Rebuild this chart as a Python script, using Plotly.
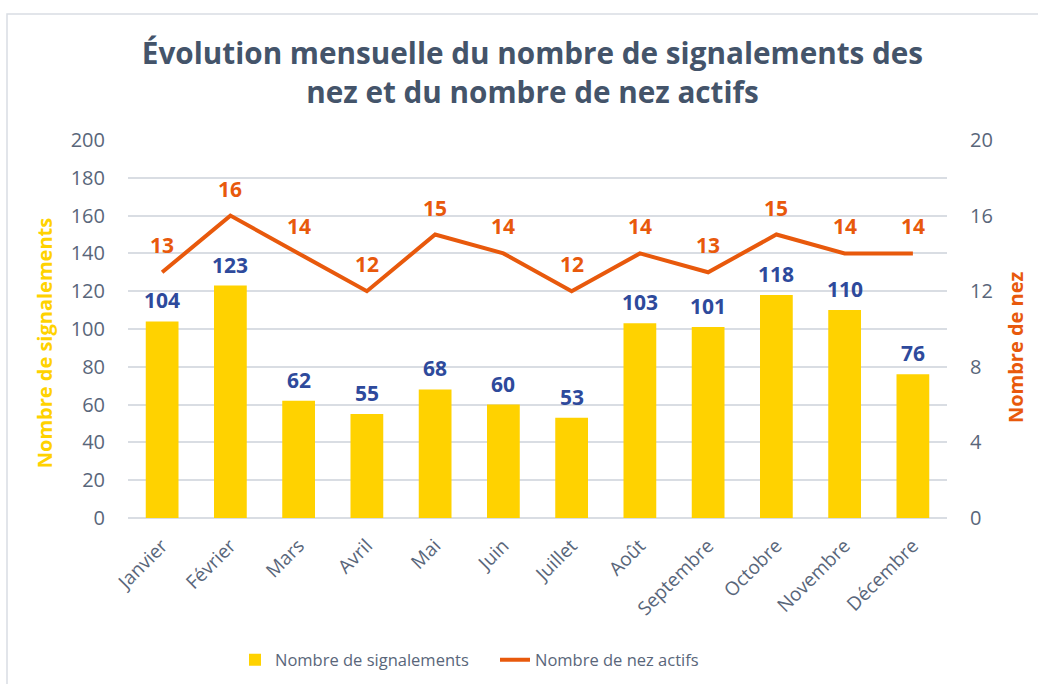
import plotly.graph_objects as go

months = ["Janvier", "Février", "Mars", "Avril", "Mai", "Juin", "Juillet",
          "Août", "Septembre", "Octobre", "Novembre", "Décembre"]
signalements = [104, 123, 62, 55, 68, 60, 53, 103, 101, 118, 110, 76]
nez_actifs = [13, 16, 14, 12, 15, 14, 12, 14, 13, 15, 14, 14]

YELLOW = "#FFD200"
ORANGE = "#E8590C"
BLUE = "#2E4A9C"
SLATE = "#44546A"
TICK = "#59667A"
FONT = "Open Sans"

fig = go.Figure()
fig.add_trace(go.Bar(x=months, y=signalements, name="Nombre de signalements",
                     marker=dict(color=YELLOW, line=dict(width=0)), yaxis="y"))
fig.add_trace(go.Scatter(x=months, y=nez_actifs, name="Nombre de nez actifs",
                         mode="lines", line=dict(color=ORANGE, width=4), yaxis="y2"))

annotations = []
for m, v in zip(months, signalements):
    annotations.append(dict(x=m, y=v, xref="x", yref="y", text=str(v), showarrow=False,
                            yanchor="bottom", yshift=5,
                            font=dict(family=FONT, size=21, color=BLUE, weight="bold")))
for m, v in zip(months, nez_actifs):
    annotations.append(dict(x=m, y=v, xref="x", yref="y2", text=str(v), showarrow=False,
                            yanchor="bottom", yshift=11,
                            font=dict(family=FONT, size=21, color=ORANGE, weight="bold")))
annotations.append(dict(x=-0.101, y=0.463, xref="paper", yref="paper", text="Nombre de signalements",
                        textangle=-90, showarrow=False, xanchor="center", yanchor="middle",
                        font=dict(family=FONT, size=20, color=YELLOW, weight="bold")))
annotations.append(dict(x=1.083, y=0.452, xref="paper", yref="paper", text="Nombre de nez",
                        textangle=-90, showarrow=False, xanchor="center", yanchor="middle",
                        font=dict(family=FONT, size=20, color=ORANGE, weight="bold")))

fig.update_layout(
    width=1038, height=684,
    margin=dict(l=128, r=91, t=140, b=166, autoexpand=False),
    paper_bgcolor="white", plot_bgcolor="white",
    font=dict(family=FONT, color=TICK),
    title=dict(text="Évolution mensuelle du nombre de signalements des<br>nez et du nombre de nez actifs",
               x=0.513, xref="container", xanchor="center",
               y=1 - 64 / 684, yref="container", yanchor="middle",
               font=dict(family=FONT, size=29.7, color=SLATE, weight="bold")),
    bargap=0.52,
    xaxis=dict(tickangle=-45, tickfont=dict(size=19, color=TICK), showgrid=False,
               showline=False, ticks="", ticklabelstandoff=12, automargin=False),
    yaxis=dict(range=[0, 200], dtick=20, tickfont=dict(size=20, color=TICK),
               gridcolor="#D9DDE3", gridwidth=1.5, zeroline=True, zerolinecolor="#D9DDE3",
               zerolinewidth=1.5, ticks="", ticklabelstandoff=22, automargin=False),
    yaxis2=dict(range=[0, 20], dtick=4, overlaying="y", side="right", showgrid=False,
                zeroline=False, tickfont=dict(size=20, color=TICK), ticks="",
                ticklabelstandoff=22, automargin=False),
    legend=dict(orientation="h", x=(235 - 128) / 819, xanchor="left", y=-0.376, yanchor="middle",
                font=dict(size=16.5, color=TICK), traceorder="normal", entrywidth=215),
    annotations=annotations,
    shapes=[dict(type="rect", xref="paper", yref="paper",
                 x0=(7 - 128) / 819, x1=(1045 - 128) / 819,
                 y0=(518 - 700) / 378, y1=(518 - 14) / 378,
                 line=dict(color="#D9DDE3", width=1.5), fillcolor="rgba(0,0,0,0)",
                 layer="below")],
)

fig.write_html("out.html", config={"displayModeBar": False},
               post_script="document.body.style.margin='0';")
